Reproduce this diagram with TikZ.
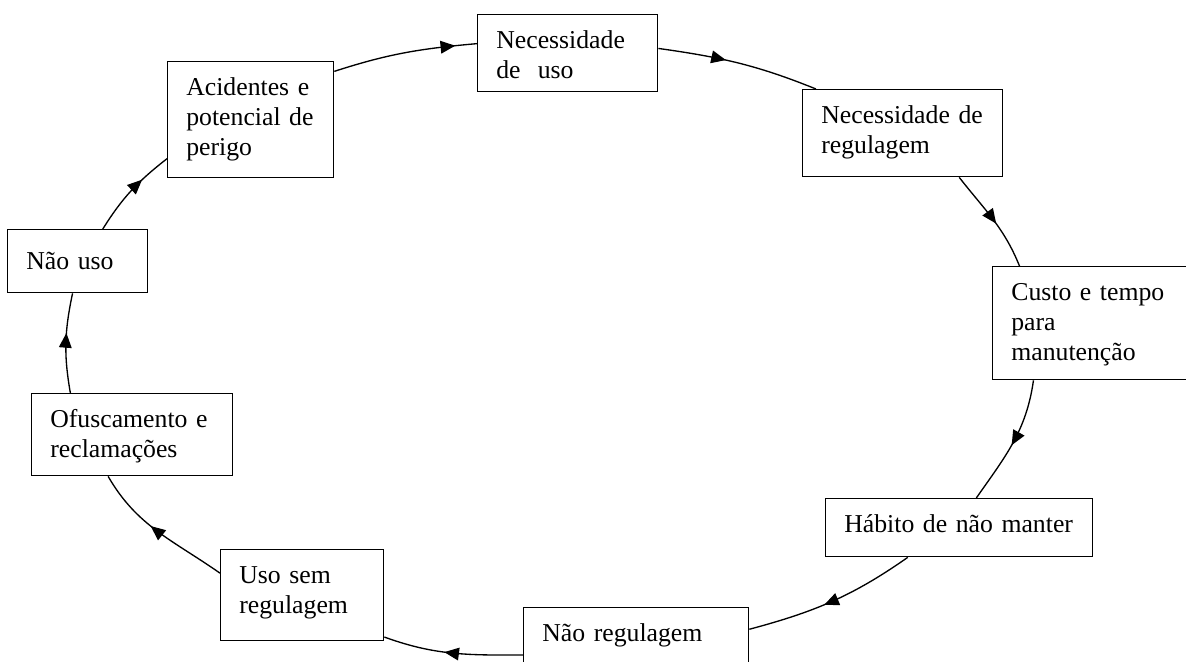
\documentclass[tikz,border=0pt]{standalone}
\usepackage{fontspec}
\setmainfont{Liberation Serif}
\usetikzlibrary{arrows.meta,decorations.markings}

\tikzset{
  cbox/.style={draw, line width=1pt, anchor=north west, align=left,
    inner xsep=14pt, inner ysep=0pt, text height=25.5pt, text width=#1},
  link/.style={line width=1pt},
  flow/.style={postaction={decorate}, decoration={markings,
    mark=at position #1 with {\arrow{Triangle[length=11pt,width=9.5pt]}}}}
}

\begin{document}
\begin{tikzpicture}[x=0.75pt,y=0.75pt,font=\fontsize{19.3}{22.5}\selectfont]
    \useasboundingbox (0,0) rectangle (1186,-661);
    \clip (0,0) rectangle (1186,-661);

    % caixas do ciclo
    \node[cbox=107pt, text depth=32.25pt] (nec) at (477,-14) {Necessidade\\de\ \ uso};
    \node[cbox=122pt, text depth=39.75pt] (reg) at (802,-89) {Necessidade de\\regulagem};
    \node[cbox=122pt, text depth=59.25pt] (custo) at (992,-266) {Custo e tempo\\para\\manutenção};
    \node[cbox=172.25pt, text depth=18pt] (habito) at (825,-498) {Hábito de não manter};
    \node[cbox=140.75pt, text depth=30.75pt] (naoreg) at (523,-607) {Não regulagem};
    \node[cbox=94.25pt, text depth=42.75pt] (usosem) at (220,-549) {Uso sem\\regulagem};
    \node[cbox=122.75pt, text depth=36pt] (ofusc) at (31,-393) {Ofuscamento e\\reclamações};
    \node[cbox=77pt, text height=30pt, text depth=17.25pt] (naouso) at (7,-229) {Não uso};
    \node[cbox=96.5pt, text depth=61.5pt] (acid) at (167,-61) {Acidentes e\\potencial de\\perigo};

    % setas
    \foreach \a/\sa/\b/\sb/\o/\i/\p in {
        acid/30/nec/174/18/185/0.85,
        nec/3.5/reg/153/-8/158/0.42,
        reg/-38/custo/142.6/-52/112/0.55,
        custo/224/habito/60/-98/55/0.52,
        habito/210/naoreg/8/215/15/0.55,
        naoreg/185/usosem/-27.5/180/-20/0.56,
        usosem/165/ofusc/240/145/-60/0.56,
        ofusc/146/naouso/261/100/-102/0.6,
        naouso/52/acid/205/58/218/0.66}
        \draw[link, flow=\p] (\a.\sa) to[out=\o, in=\i] (\b.\sb);
\end{tikzpicture}
\end{document}
